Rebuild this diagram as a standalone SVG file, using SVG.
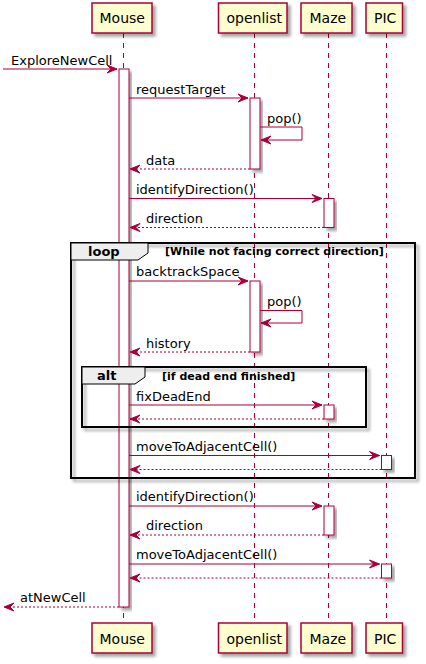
<svg xmlns="http://www.w3.org/2000/svg" width="426" height="664" viewBox="0 0 426 664">
<defs>
<filter id="sh" x="-20%" y="-20%" width="150%" height="150%">
<feDropShadow dx="3" dy="3" stdDeviation="1.8" flood-color="#000" flood-opacity="0.35"/>
</filter>
</defs>
<style>
.life{stroke:#A80036;stroke-width:1;stroke-dasharray:5,5;fill:none}
.part{fill:#FEFECE;stroke:#A80036;stroke-width:1.5;filter:url(#sh)}
.act{fill:#FFFFFF;stroke:#A80036;stroke-width:1;filter:url(#sh)}
.pt{font-family:"DejaVu Sans",sans-serif;font-size:14px;fill:#000}
.msg{stroke:#A80036;stroke-width:1;fill:none}
.ret{stroke:#A80036;stroke-width:1;fill:none;stroke-dasharray:2,2}
.ah{fill:#A80036;stroke:#A80036;stroke-width:1}
.mt{font-family:"DejaVu Sans",sans-serif;font-size:13px;fill:#000}
.frame{fill:none;stroke:#000;stroke-width:2;filter:url(#sh)}
.tab{fill:#EEEEEE;stroke:#000;stroke-width:1}
.ft{font-family:"DejaVu Sans",sans-serif;font-size:13px;font-weight:bold;fill:#000}
.fc{font-family:"DejaVu Sans",sans-serif;font-size:11px;font-weight:bold;fill:#000}
</style>

<g id="lifelines">
<line class="life" x1="123.5" y1="33" x2="123.5" y2="623"/>
<line class="life" x1="254.5" y1="33" x2="254.5" y2="623"/>
<line class="life" x1="328.5" y1="33" x2="328.5" y2="623"/>
<line class="life" x1="386.5" y1="33" x2="386.5" y2="623"/>
</g>

<g id="activations">
<rect class="act" x="119" y="69" width="10" height="538"/>
<rect class="act" x="250" y="98" width="10" height="71"/>
<rect class="act" x="324" y="198.5" width="10" height="29"/>
<rect class="act" x="250" y="281" width="10" height="71"/>
<rect class="act" x="324" y="405" width="10" height="14"/>
<rect class="act" x="381.5" y="455.5" width="10" height="14"/>
<rect class="act" x="324" y="506" width="10" height="29"/>
<rect class="act" x="381.5" y="564" width="10" height="14"/>
</g>

<g id="loop">
<rect class="frame" x="71" y="243" width="344" height="235"/>
<polygon class="tab" points="71,243 148,243 148,253 138,260 71,260"/>
<text class="ft" x="88" y="256">loop</text>
<text class="fc" x="165" y="255">[While not facing correct direction]</text>
</g>

<g id="alt">
<rect class="frame" x="82" y="367" width="284" height="60"/>
<polygon class="tab" points="82,367 145,367 145,377 135,384 82,384"/>
<text class="ft" x="97" y="380">alt</text>
<text class="fc" x="162" y="380">[if dead end finished]</text>
</g>

<g id="connectors">
<line class="msg" x1="3" y1="69" x2="117" y2="69"/>
<polygon class="ah" points="107,65 117,69 107,73 111,69"/>
<text class="mt" x="11" y="65">ExploreNewCell</text>

<line class="msg" x1="129" y1="98" x2="248" y2="98"/>
<polygon class="ah" points="238,94 248,98 238,102 242,98"/>
<text class="mt" x="136" y="94">requestTarget</text>

<polyline class="msg" points="260,127 302,127 302,140 261,140"/>
<polygon class="ah" points="271,136 261,140 271,144 267,140"/>
<text class="mt" x="267" y="123">pop()</text>

<line class="ret" x1="250" y1="169" x2="130" y2="169"/>
<polygon class="ah" points="140,165 130,169 140,173 136,169"/>
<text class="mt" x="146" y="165">data</text>

<line class="msg" x1="129" y1="198.5" x2="322" y2="198.5"/>
<polygon class="ah" points="312,194.5 322,198.5 312,202.5 316,198.5"/>
<text class="mt" x="136" y="194">identifyDirection()</text>

<line class="ret" x1="324" y1="227.5" x2="130" y2="227.5"/>
<polygon class="ah" points="140,223.5 130,227.5 140,231.5 136,227.5"/>
<text class="mt" x="146" y="223">direction</text>

<line class="msg" x1="129" y1="281" x2="248" y2="281"/>
<polygon class="ah" points="238,277 248,281 238,285 242,281"/>
<text class="mt" x="136" y="276">backtrackSpace</text>

<polyline class="msg" points="260,310.5 302,310.5 302,323 261,323"/>
<polygon class="ah" points="271,319 261,323 271,327 267,323"/>
<text class="mt" x="267" y="306">pop()</text>

<line class="ret" x1="250" y1="352" x2="130" y2="352"/>
<polygon class="ah" points="140,348 130,352 140,356 136,352"/>
<text class="mt" x="146" y="348">history</text>

<line class="msg" x1="129" y1="405" x2="322" y2="405"/>
<polygon class="ah" points="312,401 322,405 312,409 316,405"/>
<text class="mt" x="136" y="401">fixDeadEnd</text>

<line class="ret" x1="324" y1="419" x2="130" y2="419"/>
<polygon class="ah" points="140,415 130,419 140,423 136,419"/>

<line class="msg" x1="129" y1="455.5" x2="379.5" y2="455.5"/>
<polygon class="ah" points="369.5,451.5 379.5,455.5 369.5,459.5 373.5,455.5"/>
<text class="mt" x="136" y="451">moveToAdjacentCell()</text>

<line class="ret" x1="381.5" y1="469.5" x2="130" y2="469.5"/>
<polygon class="ah" points="140,465.5 130,469.5 140,473.5 136,469.5"/>

<line class="msg" x1="129" y1="506" x2="322" y2="506"/>
<polygon class="ah" points="312,502 322,506 312,510 316,506"/>
<text class="mt" x="136" y="501">identifyDirection()</text>

<line class="ret" x1="324" y1="535" x2="130" y2="535"/>
<polygon class="ah" points="140,531 130,535 140,539 136,535"/>
<text class="mt" x="146" y="530">direction</text>

<line class="msg" x1="129" y1="564" x2="379.5" y2="564"/>
<polygon class="ah" points="369.5,560 379.5,564 369.5,568 373.5,564"/>
<text class="mt" x="136" y="559">moveToAdjacentCell()</text>

<line class="ret" x1="381.5" y1="578" x2="130" y2="578"/>
<polygon class="ah" points="140,574 130,578 140,582 136,578"/>

<line class="ret" x1="119" y1="607" x2="4" y2="607"/>
<polygon class="ah" points="14,603 4,607 14,611 10,607"/>
<text class="mt" x="20" y="602">atNewCell</text>
</g>

<g id="Mouse">
<rect class="part" x="92" y="3" width="60" height="30"/>
<text class="pt" x="99.5" y="23">Mouse</text>
<rect class="part" x="92" y="623" width="60" height="30"/>
<text class="pt" x="99.5" y="644">Mouse</text>
</g>
<g id="openlist">
<rect class="part" x="218.5" y="3" width="68.5" height="30"/>
<text class="pt" x="226.5" y="23">openlist</text>
<rect class="part" x="218.5" y="623" width="68.5" height="30"/>
<text class="pt" x="226.5" y="644">openlist</text>
</g>
<g id="Maze">
<rect class="part" x="301" y="3" width="51" height="30"/>
<text class="pt" x="309.5" y="23">Maze</text>
<rect class="part" x="301" y="623" width="51" height="30"/>
<text class="pt" x="309.5" y="644">Maze</text>
</g>
<g id="PIC">
<rect class="part" x="366" y="3" width="36.5" height="30"/>
<text class="pt" x="374" y="23">PIC</text>
<rect class="part" x="366" y="623" width="36.5" height="30"/>
<text class="pt" x="374" y="644">PIC</text>
</g>
</svg>
